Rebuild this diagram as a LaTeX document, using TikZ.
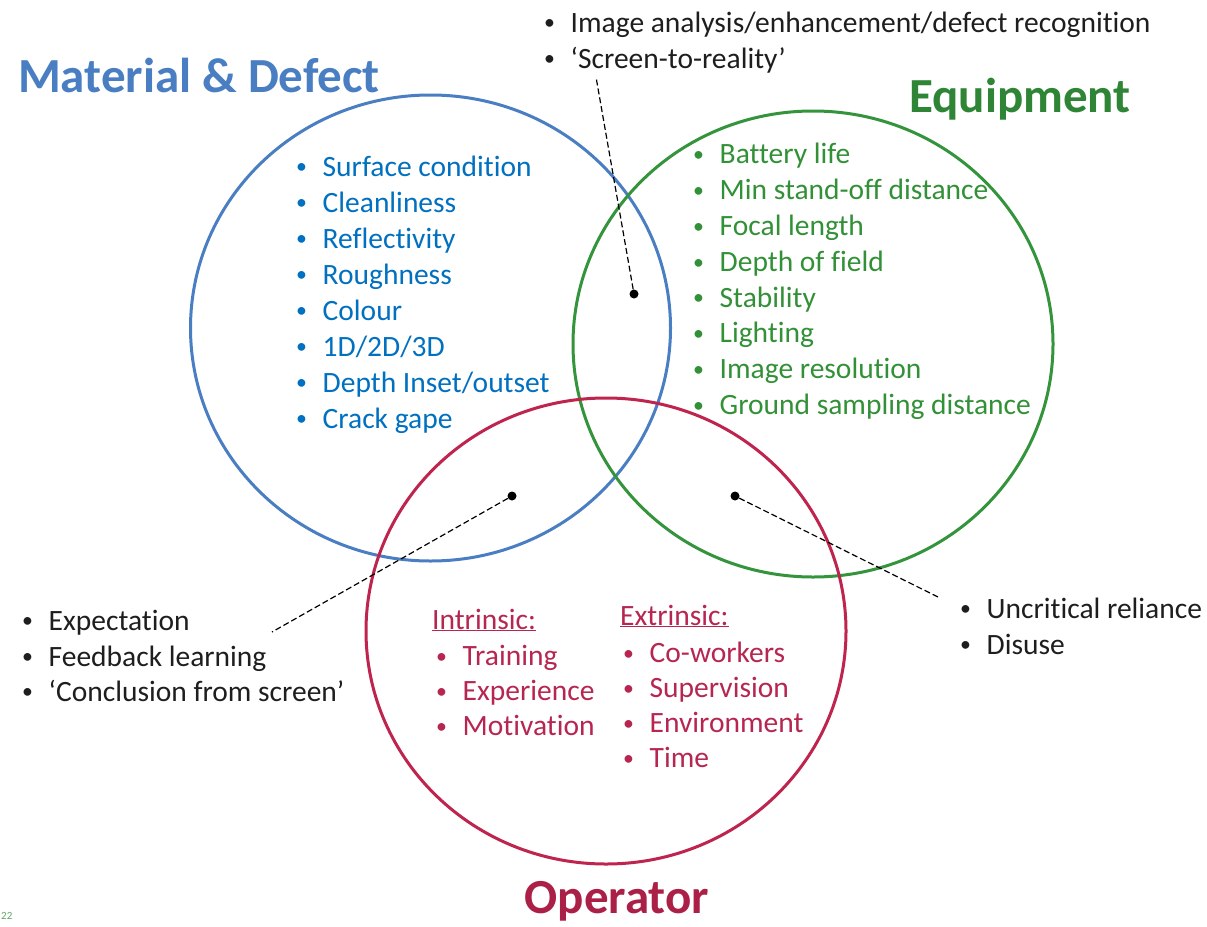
\documentclass[tikz,border=0pt]{standalone}
\usepackage{fontspec}
\setmainfont{Carlito}[Ligatures={TeX, NoCommon}]
\usetikzlibrary{positioning, shapes.geometric}

\definecolor{matblue}{RGB}{74,126,194}
\definecolor{matitem}{RGB}{0,112,192}
\definecolor{eqgreen}{RGB}{52,148,60}
\definecolor{eqitem}{RGB}{50,145,55}
\definecolor{opred}{RGB}{190,36,78}
\definecolor{opitem}{RGB}{182,38,80}
\definecolor{note}{RGB}{30,30,30}

\newcommand{\bitem}[1]{\makebox[26.5pt][l]{\raisebox{2.2pt}{\scalebox{0.74}{•}}}#1}

\begin{document}
\begin{tikzpicture}[
          x=1pt, y=-1pt,
          venn/.style={ellipse, draw, line width=3pt, minimum width=480pt, minimum height=466pt, inner sep=0pt},
          item/.style={anchor=base west, inner sep=0pt, font=\fontsize{29.5}{36}\selectfont},
          title/.style={anchor=base, inner sep=0pt, font=\fontsize{49}{52}\selectfont\bfseries},
          spot/.style={circle, fill=black, minimum size=9pt, inner sep=0pt},
          leader/.style={dash pattern=on 6pt off 3pt, line width=1.2pt}
      ]
      
      \fill[white] (0,0) rectangle (1207,926);
      
      \node[venn, matblue] (mat) at (430.5,328) {};
      \node[venn, eqgreen] (equip) at (813,344) {};
      \node[venn, opred] (oper) at (606,631) {};
      
      \node[title, matblue] (mattitle) at (199,92) {Material \& Defect};
      \node[title, eqgreen!90!black] (eqtitle) at (1020,112) {Equipment};
      \node[title, opred!90!black] (optitle) at (617,913) {Operator};
      
      \foreach \t [count=\i] in {Surface condition, Cleanliness, Reflectivity, Roughness, Colour, 1D/2D/3D, Depth Inset/outset, Crack gape}
          \node[item, matitem] (m\i) at (296,140+36*\i) {\bitem{\t}};
      
      \foreach \t [count=\i] in {Battery life, Min stand-off distance, Focal length, Depth of field, Stability, Lighting, Image resolution, Ground sampling distance}
          \node[item, eqitem] (e\i) at (693,128+35.8*\i) {\bitem{\t}};
      
      \node[item, opitem] (intr) at (432,629) {\underline{Intrinsic:}};
      \foreach \t [count=\i] in {Training, Experience, Motivation}
          \node[item, opitem] (o\i) at (436,630+35.2*\i) {\bitem{\t}};
      
      \node[item, opitem] (extr) at (620,625) {\underline{Extrinsic:}};
      \foreach \t [count=\i] in {Co-workers, Supervision, Environment, Time}
          \node[item, opitem] (x\i) at (623,627+35.2*\i) {\bitem{\t}};
      
      \node[item, note] (t1) at (544,32) {\bitem{Image analysis/enhancement/defect recognition}};
      \node[item, note] (t2) at (544,68) {\bitem{`Screen-to-reality'}};
      
      \node[item, note] (l1) at (22,630) {\bitem{Expectation}};
      \node[item, note] (l2) at (22,666) {\bitem{Feedback learning}};
      \node[item, note] (l3) at (22,701) {\bitem{`Conclusion from screen'}};
      
      \node[item, note] (r1) at (960,618) {\bitem{Uncritical reliance}};
      \node[item, note] (r2) at (960,654) {\bitem{Disuse}};
      
      \node[spot] (dtop) at (634,294) {};
      \node[spot] (dleft) at (512,496) {};
      \node[spot] (dright) at (735,496) {};
      
      \coordinate (ctop) at (596,77);
      \coordinate (cleft) at (272,632);
      \coordinate (cright) at (940,598);
      
      \draw[leader] (dtop) -- (ctop);
      \draw[leader] (dleft) -- (cleft);
      \draw[leader] (dright) -- (cright);
      
      \node[anchor=base west, inner sep=0pt, eqgreen!80, font=\fontsize{11}{12}\selectfont] (pg) at (1,919) {22};
      
\end{tikzpicture}
\end{document}
